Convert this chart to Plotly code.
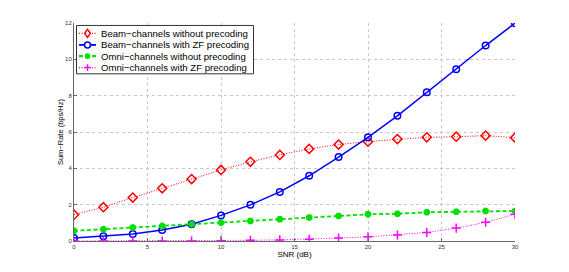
import plotly.graph_objects as go

snr = [0, 2, 4, 6, 8, 10, 12, 14, 16, 18, 20, 22, 24, 26, 28, 30]
beam_no_prec = [1.45, 1.86, 2.39, 2.90, 3.41, 3.91, 4.36, 4.74, 5.07, 5.31, 5.47, 5.61, 5.71, 5.74, 5.80, 5.69]
beam_zf = [0.16, 0.26, 0.38, 0.60, 0.92, 1.41, 1.99, 2.70, 3.59, 4.62, 5.71, 6.89, 8.19, 9.46, 10.76, 11.99]
omni_no_prec = [0.56, 0.65, 0.74, 0.83, 0.92, 1.01, 1.10, 1.20, 1.29, 1.38, 1.47, 1.50, 1.58, 1.61, 1.65, 1.65]
omni_zf = [0.0, 0.0, 0.0, 0.0, 0.0, 0.02, 0.04, 0.06, 0.10, 0.16, 0.23, 0.33, 0.47, 0.71, 1.03, 1.47]
names = ["Beam−channels without precoding", "Beam−channels with ZF precoding",
         "Omni−channels without precoding", "Omni−channels with ZF precoding"]
x_ticks = [0, 5, 10, 15, 20, 25, 30]
y_ticks = [0, 2, 4, 6, 8, 10, 12]

# page has an 8px body margin; compensate so the plot lands where the reference has it
OFF = 8
W, H = 569 - OFF, 272 - OFF
L, R, T, B = 74 - OFF, 515 - OFF, 20 - OFF, 241 - OFF
FONT = "Liberation Sans, Arial, Helvetica, sans-serif"

styles = [
    dict(color="#ff0000", dash="1px,1.6px", width=1, symbol="diamond-open", size=7, mlw=1.5),
    dict(color="#0000ff", dash="solid", width=1.5, symbol="circle-open", size=6.5, mlw=1.5),
    dict(color="#00e000", dash="4px,2.5px", width=1.8, symbol="asterisk-open", size=5.5, mlw=2.5),
    dict(color="#ff00ff", dash="1px,1.6px", width=1, symbol="cross-thin-open", size=6.5, mlw=1.5),
]
series = [beam_no_prec, beam_zf, omni_no_prec, omni_zf]

fig = go.Figure()
for name, ys, st in zip(names, series, styles):
    fig.add_trace(go.Scatter(
        x=snr, y=ys, name=name, mode="lines+markers", showlegend=False,
        line=dict(color=st["color"], dash=st["dash"], width=st["width"]),
        marker=dict(symbol=st["symbol"], size=st["size"], color=st["color"],
                    line=dict(color=st["color"], width=st["mlw"])),
    ))

# page pixel -> paper coordinates
def px(xpix):
    return (xpix - OFF - L) / (R - L)

def py(ypix):
    return (B - (ypix - OFF)) / (B - T)

shapes = []
annotations = []
shapes.append(dict(type="rect", xref="paper", yref="paper",
                   x0=px(76.5), x1=px(253.5), y0=py(71.5), y1=py(22.5),
                   line=dict(color="#333333", width=1), fillcolor="white", layer="above"))
rows = [30.5, 42.2, 53.6, 65.2]
for name, st, ry in zip(names, styles, rows):
    shapes.append(dict(type="line", xref="paper", yref="paper",
                       x0=px(79), x1=px(96), y0=py(ry), y1=py(ry),
                       line=dict(color=st["color"], width=st["width"] + 0.3, dash=st["dash"]),
                       layer="above"))
    ax, ay = px(87.5), py(ry)
    c = st["color"]
    common = dict(xref="paper", yref="paper", xsizemode="pixel", ysizemode="pixel",
                  xanchor=ax, yanchor=ay, layer="above")
    if st["symbol"].startswith("diamond"):
        shapes.append(dict(type="path", path="M0,4 L2.8,0 L0,-4 L-2.8,0 Z",
                           line=dict(color=c, width=1.5), fillcolor="white", **common))
    elif st["symbol"].startswith("circle"):
        shapes.append(dict(type="circle", x0=-3, x1=3, y0=-3, y1=3,
                           line=dict(color=c, width=1.5), fillcolor="white", **common))
    elif st["symbol"].startswith("asterisk"):
        shapes.append(dict(type="path",
                           path="M-2.8,0 L2.8,0 M0,-2.8 L0,2.8 M-2,-2 L2,2 M-2,2 L2,-2",
                           line=dict(color=c, width=2), **common))
    else:
        shapes.append(dict(type="path", path="M-3.3,0 L3.3,0 M0,-3.3 L0,3.3",
                           line=dict(color=c, width=1.5), **common))
    annotations.append(dict(xref="paper", yref="paper", x=px(98.5), y=py(ry),
                            xanchor="left", yanchor="middle", showarrow=False,
                            text=name, font=dict(family=FONT, size=9.6, color="black")))

axis_common = dict(
    showgrid=True, gridcolor="#c8c8c8", griddash="dot", gridwidth=1,
    showline=True, linecolor="#666666", linewidth=1,
    ticks="inside", ticklen=3, tickcolor="#666666",
    tickfont=dict(family=FONT, size=6, color="#333333"),
    zeroline=False, mirror=False,
)

fig.update_layout(
    width=W, height=H,
    margin=dict(l=L, r=W - R, t=T, b=H - B),
    paper_bgcolor="white", plot_bgcolor="white",
    showlegend=False,
    xaxis=dict(range=[0, 30], tickvals=x_ticks, ticktext=[str(v) for v in x_ticks],
               title=dict(text="SNR (dB)", font=dict(family=FONT, size=8, color="black"), standoff=2),
               **axis_common),
    yaxis=dict(range=[0, 12], tickvals=y_ticks, ticktext=[str(v) for v in y_ticks],
               title=dict(text="Sum−Rate (bps/Hz)", font=dict(family=FONT, size=7.5, color="black"), standoff=0),
               **axis_common),
    shapes=shapes,
    annotations=annotations,
)

fig.write_html("out.html")
